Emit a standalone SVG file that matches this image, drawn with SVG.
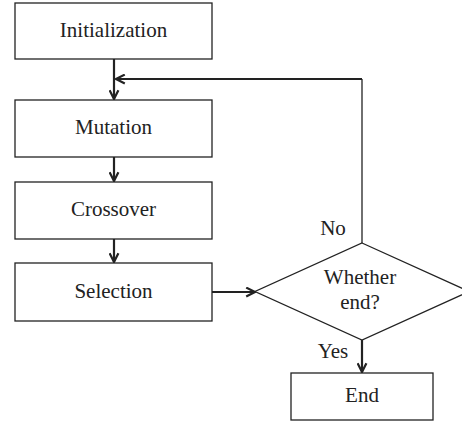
<svg xmlns="http://www.w3.org/2000/svg" width="462" height="424" viewBox="0 0 462 424">
<style>
.box{fill:#fff;stroke:#222;stroke-width:1.3}
text{font-family:'Liberation Serif','Times New Roman',serif;font-size:21px;fill:#222;text-anchor:middle}
.c{fill:none;stroke:#222;stroke-width:2.2}
.thin{fill:none;stroke:#222;stroke-width:1.3}
</style>
<defs>
<marker id="ah" viewBox="0 0 10 10" refX="9" refY="5" markerWidth="11" markerHeight="11" markerUnits="userSpaceOnUse" orient="auto">
<path d="M1,1 L9,5 L1,9" fill="none" stroke="#222" stroke-width="2"/>
</marker>
</defs>
<rect width="462" height="424" fill="#fff"/>
<g id="connectors">
<line class="c" x1="114" y1="59" x2="114" y2="99" marker-end="url(#ah)"/>
<polyline class="thin" points="362,243 362,79"/>
<line class="c" x1="362" y1="79" x2="116" y2="79" marker-end="url(#ah)"/>
<line class="c" x1="114" y1="157" x2="114" y2="181" marker-end="url(#ah)"/>
<line class="c" x1="114" y1="239" x2="114" y2="262" marker-end="url(#ah)"/>
<line class="c" x1="212" y1="292" x2="255" y2="292" marker-end="url(#ah)"/>
<line class="c" x1="362" y1="340" x2="362" y2="372" marker-end="url(#ah)"/>
<text x="333" y="235">No</text>
<text x="333" y="358">Yes</text>
</g>
<g id="init"><rect class="box" x="15" y="3" width="197" height="56"/><text x="113.5" y="37">Initialization</text></g>
<g id="mutation"><rect class="box" x="15" y="100" width="197" height="57"/><text x="113.5" y="134">Mutation</text></g>
<g id="crossover"><rect class="box" x="15" y="182" width="197" height="57"/><text x="113.5" y="216">Crossover</text></g>
<g id="selection"><rect class="box" x="15" y="263" width="197" height="58"/><text x="113.5" y="298">Selection</text></g>
<g id="decision"><polygon class="thin" points="362,243 469,291.5 362,340 255,291.5" fill="#fff"/><text x="360" y="284">Whether</text><text x="360" y="309">end?</text></g>
<g id="end"><rect class="box" x="291" y="373" width="142" height="47"/><text x="362" y="402">End</text></g>
</svg>
